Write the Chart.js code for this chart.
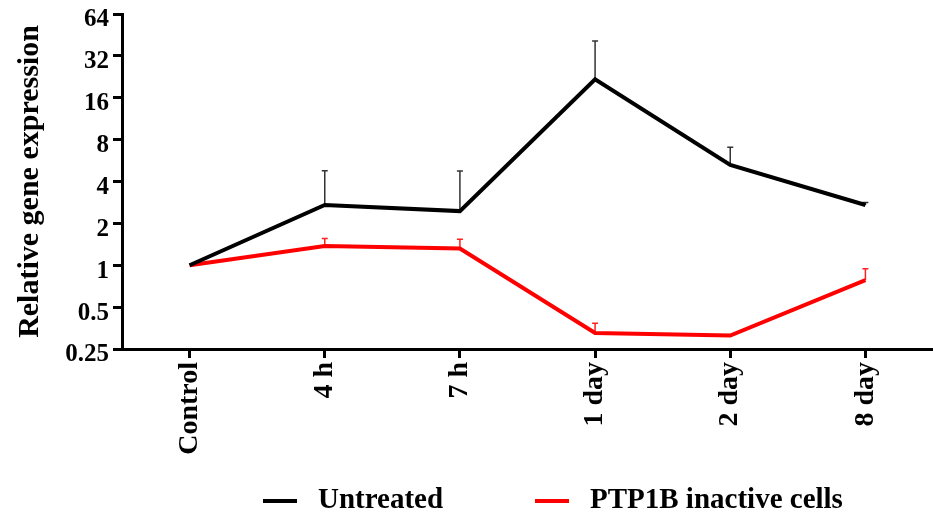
<!DOCTYPE html>
<html>
<head>
<meta charset="utf-8">
<script src="https://cdn.jsdelivr.net/npm/chart.js@4"></script>
<style>
 body{margin:0;background:#fff;}
 #wrap{width:933px;height:518px;}
</style>
</head>
<body>
<div id="wrap"><canvas id="geneChart" width="933" height="518"></canvas></div>
<script>
// data
var categories = ["Control", "4 h", "7 h", "1 day", "2 day", "8 day"];
var untreated = [1, 2.71, 2.45, 21.7, 5.26, 2.71];
var untreatedErr = [1, 4.78, 4.76, 40.9, 7.05, 2.83];   // top of error bar
var inactive = [1, 1.375, 1.32, 0.326, 0.312, 0.783];
var inactiveErr = [1, 1.56, 1.54, 0.383, 0.312, 0.945];
var yTicks = [0.25, 0.5, 1, 2, 4, 8, 16, 32, 64];
var yTickLabels = ["0.25", "0.5", "1", "2", "4", "8", "16", "32", "64"];

var serif = "'Liberation Serif', 'Times New Roman', serif";
var PLOT_BOTTOM = 349;

// draws the upper error bars with a small cap
var errorBars = {
  id: 'errorBars',
  beforeDatasetsDraw: function(chart){
    var ctx = chart.ctx;
    var xs = chart.scales.x, ys = chart.scales.y;
    chart.data.datasets.forEach(function(ds){
      ctx.save();
      ctx.strokeStyle = ds.errColor;
      ctx.lineWidth = 1.5;
      ds.data.forEach(function(v, i){
        var top = ds.errTop[i];
        if (top <= v) return;
        var x = xs.getPixelForValue(i);
        var y0 = ys.getPixelForValue(v);
        var y1 = ys.getPixelForValue(top);
        ctx.beginPath();
        ctx.moveTo(x, y0);
        ctx.lineTo(x, y1);
        ctx.moveTo(x - 3, y1);
        ctx.lineTo(x + 3, y1);
        ctx.stroke();
      });
      ctx.restore();
    });
  }
};

// legend under the plot, spaced like the original figure
var lineLegend = {
  id: 'lineLegend',
  afterDraw: function(chart){
    var ctx = chart.ctx;
    var starts = [263, 535];
    var y = 501;
    ctx.save();
    ctx.font = 'bold 29px ' + serif;
    ctx.textBaseline = 'middle';
    chart.data.datasets.forEach(function(ds, i){
      var x = starts[i];
      ctx.fillStyle = ds.borderColor;
      ctx.fillRect(x, y - 2, 34, 4);
      ctx.fillStyle = '#000';
      ctx.fillText(ds.label, x + 55, y);
    });
    ctx.restore();
  }
};

var ctx = document.getElementById('geneChart').getContext('2d');
var chart = new Chart(ctx, {
  type: 'line',
  data: {
    labels: categories,
    datasets: [{
      label: 'Untreated',
      data: untreated,
      errTop: untreatedErr,
      errColor: '#333333',
      borderColor: '#000000',
      backgroundColor: '#000000',
      borderWidth: 4,
      pointRadius: 0,
      tension: 0
    }, {
      label: 'PTP1B inactive cells',
      data: inactive,
      errTop: inactiveErr,
      errColor: '#ff2020',
      borderColor: '#ff0000',
      backgroundColor: '#ff0000',
      borderWidth: 4,
      pointRadius: 0,
      tension: 0
    }]
  },
  options: {
    responsive: false,
    animation: false,
    layout: { padding: { left: 0, right: 0, top: 14, bottom: 0 } },
    plugins: {
      tooltip: { enabled: false },
      legend: { display: false }
    },
    scales: {
      x: {
        type: 'category',
        offset: true,
        grid: { display: true, drawOnChartArea: false, drawTicks: true, tickLength: 9, tickWidth: 3, tickColor: '#000', offset: false },
        border: { display: true, width: 3, color: '#000' },
        ticks: {
          minRotation: 90, maxRotation: 90,
          padding: 4,
          color: '#000',
          font: { family: serif, size: 28, weight: 'bold' }
        },
        afterFit: function(scale){
          scale.height = scale.chart.height - PLOT_BOTTOM;
        }
      },
      y: {
        type: 'logarithmic',
        min: 0.25,
        max: 64,
        afterBuildTicks: function(scale){
          scale.ticks = yTicks.map(function(v){ return { value: v }; });
        },
        grid: { drawOnChartArea: false, drawTicks: true, tickLength: 9, tickWidth: 3, tickColor: '#000' },
        border: { display: true, width: 3, color: '#000' },
        ticks: {
          padding: 4,
          labelOffset: 6,
          color: '#000',
          font: { family: serif, size: 25, weight: 'bold' },
          callback: function(value, index){ return yTickLabels[index]; }
        },
        title: {
          display: true,
          text: 'Relative gene expression',
          color: '#000',
          padding: { top: 12, bottom: 0 },
          font: { family: serif, size: 30, weight: 'bold' }
        },
        afterFit: function(scale){
          scale.width = 122;
          scale.paddingTop = 0;
          scale.paddingBottom = 0;
        }
      }
    }
  },
  plugins: [errorBars, lineLegend]
});
</script>
</body>
</html>
